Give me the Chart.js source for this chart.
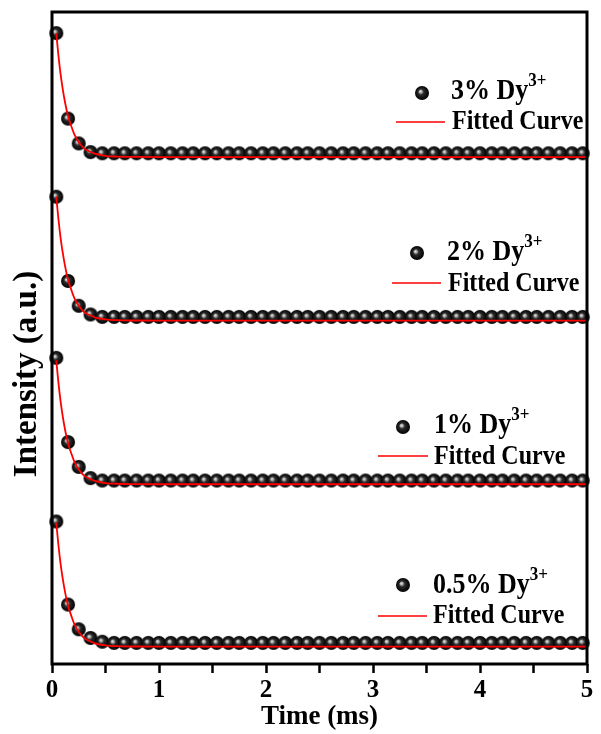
<html lang="en">
<head>
  <meta charset="UTF-8">
  <script src="https://cdn.jsdelivr.net/npm/chart.js@4.4.1/dist/chart.umd.min.js"></script>
  <title>Decay curves Dy3+</title>
  <style>
    body { margin: 0; background: #fff; }
  </style>
</head>
<body>
  <canvas id="myChart" width="601" height="734"></canvas>
  <script>
    // time axis of the measured points (ms)
    const times = [0.04, 0.15, 0.25, 0.36, 0.47, 0.58, 0.68, 0.79, 0.90, 1.00,
      1.11, 1.22, 1.32, 1.43, 1.54, 1.65, 1.75, 1.86, 1.97, 2.07,
      2.18, 2.29, 2.39, 2.50, 2.61, 2.72, 2.82, 2.93, 3.04, 3.14,
      3.25, 3.36, 3.46, 3.57, 3.68, 3.79, 3.89, 4.00, 4.11, 4.21,
      4.32, 4.43, 4.53, 4.64, 4.75, 4.86, 4.96];

    const labels = ['3%', '2%', '1%', '0.5%'];
    // vertical shift of each curve in the stacked plot
    const offsets = [4.09, 2.77, 1.45, 0.14];

    const decay3 = [1.00, 0.31, 0.11, 0.04, 0.03, 0.03, 0.03, 0.03, 0.03, 0.03,
      0.03, 0.03, 0.03, 0.03, 0.03, 0.03, 0.03, 0.03, 0.03, 0.03,
      0.03, 0.03, 0.03, 0.03, 0.03, 0.03, 0.03, 0.03, 0.03, 0.03,
      0.03, 0.03, 0.03, 0.03, 0.03, 0.03, 0.03, 0.03, 0.03, 0.03,
      0.03, 0.03, 0.03, 0.03, 0.03, 0.03, 0.03];
    const decay2 = [1.00, 0.32, 0.12, 0.05, 0.03, 0.03, 0.03, 0.03, 0.03, 0.03,
      0.03, 0.03, 0.03, 0.03, 0.03, 0.03, 0.03, 0.03, 0.03, 0.03,
      0.03, 0.03, 0.03, 0.03, 0.03, 0.03, 0.03, 0.03, 0.03, 0.03,
      0.03, 0.03, 0.03, 0.03, 0.03, 0.03, 0.03, 0.03, 0.03, 0.03,
      0.03, 0.03, 0.03, 0.03, 0.03, 0.03, 0.03];
    const decay1 = [1.02, 0.34, 0.14, 0.05, 0.03, 0.03, 0.03, 0.03, 0.03, 0.03,
      0.03, 0.03, 0.03, 0.03, 0.03, 0.03, 0.03, 0.03, 0.03, 0.03,
      0.03, 0.03, 0.03, 0.03, 0.03, 0.03, 0.03, 0.03, 0.03, 0.03,
      0.03, 0.03, 0.03, 0.03, 0.03, 0.03, 0.03, 0.03, 0.03, 0.03,
      0.03, 0.03, 0.03, 0.03, 0.03, 0.03, 0.03];
    const decay05 = [1.01, 0.34, 0.14, 0.07, 0.04, 0.03, 0.03, 0.03, 0.03, 0.03,
      0.03, 0.03, 0.03, 0.03, 0.03, 0.03, 0.03, 0.03, 0.03, 0.03,
      0.03, 0.03, 0.03, 0.03, 0.03, 0.03, 0.03, 0.03, 0.03, 0.03,
      0.03, 0.03, 0.03, 0.03, 0.03, 0.03, 0.03, 0.03, 0.03, 0.03,
      0.03, 0.03, 0.03, 0.03, 0.03, 0.03, 0.03];
    const decays = [decay3, decay2, decay1, decay05];

    // fitted exponential
    const fitTimes = [0.04, 0.06, 0.08, 0.10, 0.12, 0.15, 0.18, 0.21, 0.25, 0.30, 0.35, 0.40, 0.50, 0.60, 0.80, 1.00, 5.00];
    const fitCurve = [1.00, 0.82, 0.67, 0.55, 0.45, 0.33, 0.25, 0.18, 0.12, 0.07, 0.045, 0.027, 0.01, 0.004, 0.001, 0, 0];

    const xTicks = [0, 1, 2, 3, 4, 5];

    const serif = 'Liberation Serif';

    // shaded ball marker
    function makeBall(r) {
      const c = document.createElement('canvas');
      const s = Math.ceil(r * 2) + 2;
      c.width = c.height = s;
      const g = c.getContext('2d');
      const m = s / 2;
      const grad = g.createRadialGradient(m - r * 0.25, m - r * 0.25, 0, m, m, r);
      grad.addColorStop(0, '#f2f2f2');
      grad.addColorStop(0.18, '#b0b0b0');
      grad.addColorStop(0.42, '#2a2a2a');
      grad.addColorStop(1, '#000');
      g.fillStyle = grad;
      g.beginPath();
      g.arc(m, m, r, 0, Math.PI * 2);
      g.fill();
      return c;
    }
    const ball = makeBall(7);

    const datasets = [];
    labels.forEach((lab, i) => {
      datasets.push({
        label: lab + ' Dy3+',
        data: times.map((t, k) => ({ x: t, y: decays[i][k] + offsets[i] })),
        pointStyle: ball,
        pointRadius: 7,
        showLine: false,
        order: 2,
        clip: false
      });
      datasets.push({
        label: 'Fitted Curve',
        data: fitTimes.map((t, k) => ({ x: t, y: fitCurve[k] + offsets[i] })),
        showLine: true,
        borderColor: '#ff0000',
        borderWidth: 1.8,
        pointRadius: 0,
        cubicInterpolationMode: 'monotone',
        order: 1
      });
    });

    // legend entries drawn inside the plot
    const legendPos = [
      { bx: 422, by: 93, tx: 451, ty: 99, l1: 396, l2: 445, ly: 122, fx: 452, fy: 129 },
      { bx: 417, by: 253, tx: 447, ty: 260, l1: 392, l2: 441, ly: 283, fx: 448, fy: 291 },
      { bx: 403, by: 427, tx: 434, ty: 433, l1: 378, l2: 428, ly: 456, fx: 434, fy: 464 },
      { bx: 403, by: 585, tx: 433, ty: 593, l1: 378, l2: 427, ly: 616, fx: 433, fy: 623 }
    ];

    function tallText(ctx, str, x, y, k) {
      ctx.save();
      ctx.translate(x, y);
      ctx.scale(1, k);
      ctx.fillText(str, 0, 0);
      ctx.restore();
    }

    const decorations = {
      id: 'decorations',
      beforeDraw(chart) {
        const ctx = chart.ctx;
        ctx.save();
        ctx.fillStyle = '#fff';
        ctx.fillRect(0, 0, chart.width, chart.height);
        ctx.restore();
      },
      afterDraw(chart) {
        const ctx = chart.ctx;
        const a = chart.chartArea;
        ctx.save();
        ctx.strokeStyle = '#000';
        ctx.lineWidth = 3;
        ctx.strokeRect(a.left, a.top, a.right - a.left, a.bottom - a.top);

        // y title
        ctx.fillStyle = '#000';
        ctx.save();
        ctx.translate(36, 374);
        ctx.rotate(-Math.PI / 2);
        ctx.font = 'bold 33px "' + serif + '"';
        ctx.textAlign = 'center';
        ctx.textBaseline = 'alphabetic';
        ctx.fillText('Intensity (a.u.)', 0, 0);
        ctx.restore();

        ctx.textAlign = 'left';
        ctx.textBaseline = 'alphabetic';
        legendPos.forEach((p, i) => {
          ctx.drawImage(ball, p.bx - ball.width / 2, p.by - ball.height / 2);
          ctx.font = 'bold 26px "' + serif + '"';
          const main = labels[i] + ' Dy';
          tallText(ctx, main, p.tx, p.ty, 1.1);
          const w = ctx.measureText(main).width;
          ctx.font = 'bold 17px "' + serif + '"';
          tallText(ctx, '3+', p.tx + w, p.ty - 13, 1.1);
          ctx.strokeStyle = '#ff0000';
          ctx.lineWidth = 1.5;
          ctx.beginPath();
          ctx.moveTo(p.l1, p.ly);
          ctx.lineTo(p.l2, p.ly);
          ctx.stroke();
          ctx.font = 'bold 24px "' + serif + '"';
          tallText(ctx, 'Fitted Curve', p.fx, p.fy, 1.1);
        });
        ctx.restore();
      }
    };

    const ctx = document.getElementById('myChart').getContext('2d');
    const myChart = new Chart(ctx, {
      type: 'scatter',
      data: { datasets: datasets },
      options: {
        responsive: false,
        animation: false,
        layout: { padding: { left: 52, top: 12, right: 14, bottom: 0 } },
        plugins: {
          legend: { display: false },
          tooltip: { enabled: false }
        },
        scales: {
          x: {
            type: 'linear',
            min: 0,
            max: 5,
            afterBuildTicks: scale => {
              scale.ticks = [];
              xTicks.forEach(v => {
                scale.ticks.push({ value: v });
                if (v < 5) scale.ticks.push({ value: v + 0.5 });
              });
            },
            afterFit: scale => { scale.height = 70; },
            ticks: {
              autoSkip: false,
              maxRotation: 0,
              padding: 3,
              color: '#000',
              font: { family: serif, size: 25, weight: 'bold' },
              callback: v => (Number.isInteger(v) ? v : '')
            },
            grid: {
              drawOnChartArea: false,
              drawTicks: true,
              tickLength: 9,
              tickWidth: 2.5,
              tickColor: '#000'
            },
            border: { display: false },
            title: {
              display: true,
              text: 'Time (ms)',
              color: '#000',
              padding: { top: 0, bottom: 1 },
              font: { family: serif, size: 27, weight: 'bold' }
            }
          },
          y: {
            display: false,
            min: 0,
            max: 5.26
          }
        }
      },
      plugins: [decorations]
    });
  </script>
</body>
</html>
